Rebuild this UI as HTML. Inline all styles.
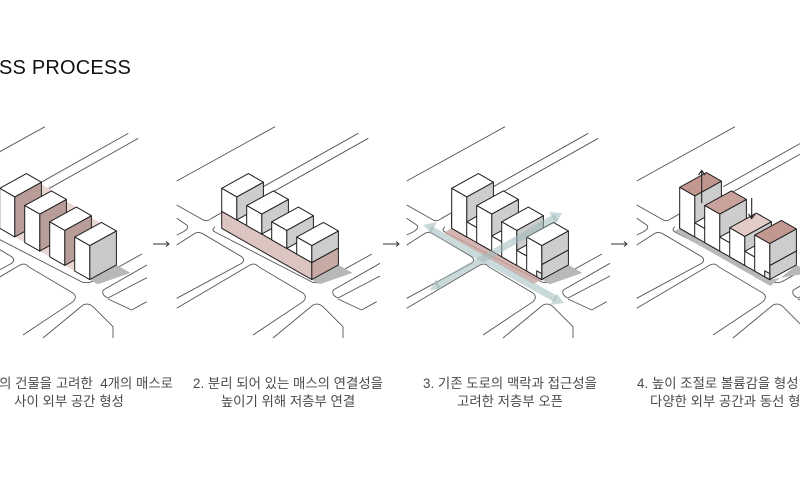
<!DOCTYPE html>
<html><head><meta charset="utf-8"><style>
html,body{margin:0;padding:0;background:#fff;}
#wrap{position:relative;width:800px;height:500px;overflow:hidden;background:#fff;font-family:"Liberation Sans","Noto Sans CJK KR",sans-serif;}
.t{position:absolute;white-space:nowrap;color:#4a4a4a;font-size:13.4px;font-family:"Liberation Sans","Noto Sans CJK KR",sans-serif;}
.c{width:300px;text-align:center;}
</style></head><body><div id="wrap">
<div style="position:absolute;left:-1px;top:57px;font-size:20px;color:#111;letter-spacing:0.2px;">SS PROCESS</div>
<svg id="s" width="800" height="500" style="position:absolute;left:0;top:0">
<defs>
<g id="roads" fill="none" stroke="#555" stroke-width="0.9">
<path d="M176.7,181 L275,126.7"/>
<path d="M263.3,186.7 L358.3,133.3"/>
<path d="M273.3,191.7 L368.3,138.3"/>
<path d="M176.7,205 L203.3,220 Q207,222 211.7,218.3 L222,212.5"/>
<path d="M176.7,218.3 L186.7,225 Q190,228 183,232 L176.7,235"/>
<path d="M215,226.7 Q211,230 215,232 L310,281 Q315,284 322,281.7 L372,254"/>
<path d="M176.7,245 L195,233.3 Q198,231.5 202,233.3 L241.7,256.7 Q245.5,260 241.7,263.3 L176.7,298.3"/>
<path d="M176.7,308.3 L250,265 Q255,262.5 258.5,266.7 L303.3,293.3 Q307.5,297 303,301.7 L253,335"/>
<path d="M273,338 L313,305 Q318,302.5 323,306.7 L343,326.7 L343,338"/>
<path d="M333.3,290 L380,263.3"/>
<path d="M380,276 L338,298 Q331,295 333.3,290"/>
<path d="M361.7,310 L376.7,301.7"/>
<path d="M338,299 L361.7,310"/>
</g>
<clipPath id="c1"><rect x="0" y="100" width="147" height="250"/></clipPath>
<clipPath id="c2"><rect x="176" y="100" width="205" height="250"/></clipPath>
<clipPath id="c3"><rect x="406" y="100" width="205" height="250"/></clipPath>
<clipPath id="c4"><rect x="636" y="100" width="170" height="250"/></clipPath>
</defs>
<g clip-path="url(#c1)"><use href="#roads" transform="translate(-230,0)"/></g>
<g clip-path="url(#c2)"><use href="#roads"/></g>
<g clip-path="url(#c3)"><use href="#roads" transform="translate(230,0)"/></g>
<g clip-path="url(#c4)"><use href="#roads" transform="translate(460,0)"/></g>
<g id="bld"></g>
<g stroke="#333" stroke-width="1" fill="none">
<path d="M153,244 L169,244 M166,241.5 L169,244 L166,246.5"/>
<path d="M383,244 L399,244 M396,241.5 L399,244 L396,246.5"/>
<path d="M611,244 L627,244 M624,241.5 L627,244 L624,246.5"/>
</g>
</svg>
<div class="t" style="right:627px;top:372px;">의 건물을 고려한&nbsp; 4개의 매스로</div>
<div class="t c" style="left:-81px;top:390px;">사이 외부 공간 형성</div>
<div class="t c" style="left:138px;top:372px;">2. 분리 되어 있는 매스의 연결성을</div>
<div class="t c" style="left:138px;top:390px;">높이기 위해 저층부 연결</div>
<div class="t c" style="left:360px;top:372px;">3. 기존 도로의 맥락과 접근성을</div>
<div class="t c" style="left:360px;top:390px;">고려한 저층부 오픈</div>
<div class="t" style="left:637px;top:372px;">4. 높이 조절로 볼륨감을 형성</div>
<div class="t" style="left:650px;top:390px;">다양한 외부 공간과 동선 형성</div>
</div>
<script>
(function(){
var out='';var S='#1e1e1e';
function P(dx,a,b,c){return [221.7+dx+a+b*26.7, 228.3+a*0.57-b*14.7-c];}
function poly(pts,fill,op){return '<polygon points="'+pts.map(function(p){return p[0].toFixed(1)+','+p[1].toFixed(1)}).join(' ')+'" fill="'+fill+'" stroke="'+(op&&op.ns?'none':S)+'" stroke-width="1" stroke-linejoin="round"'+(op&&op.o?' fill-opacity="'+op.o+'"':'')+'/>';}
function box(dx,a0,a1,b0,b1,c0,c1,f,r,t,cf){
 if(cf===undefined)cf=c0;
 out+=poly([P(dx,a1,b0,c0),P(dx,a1,b1,c0),P(dx,a1,b1,c1),P(dx,a1,b0,c1)],r);
 out+=poly([P(dx,a0,b0,c1),P(dx,a1,b0,c1),P(dx,a1,b1,c1),P(dx,a0,b1,c1)],t);
 out+=poly([P(dx,a0,b0,cf),P(dx,a1,b0,cf),P(dx,a1,b0,c1),P(dx,a0,b0,c1)],f);}
function shadow(dx){out+=poly([P(dx,90,0,0),P(dx,90,1,0),P(dx,104,1,0),P(dx,98,0,0)],'#b8b8b8',{ns:1});}
// panel 1
var dx=-222,h=[40,37,35,34];
shadow(dx);
for(var i=0;i<3;i++){out+=poly([P(dx,25*i+15,1,0),P(dx,25*i+25,1,0),P(dx,25*i+25,1,h[i]-2),P(dx,25*i+15,1,h[i]-2)],'#ead6d3',{ns:1});
 out+=poly([P(dx,25*i+15,0,0),P(dx,25*i+25,0,0),P(dx,25*i+25,1,0),P(dx,25*i+15,1,0)],'#ead6d3',{ns:1});}
for(i=0;i<4;i++)box(dx,25*i,25*i+15,0,1,0,h[i],'#fff',i<3?'#b89d98':'#c9c9c9','#fff');
// panel 2
dx=0;shadow(dx);
box(dx,0,90,0,1,0,17,'#dcc4c0','#c8aaa5','#fff');
for(i=0;i<4;i++)box(dx,25*i,25*i+15,0,1,17,h[i],'#fff','#cdcdcd','#fff');
// panel 3
dx=230;shadow(dx);
out+=poly([P(dx,0,0,0),P(dx,90,0,0),P(dx,90,-0.3,0),P(dx,0,-0.3,0)],'#c9a39e',{ns:1,o:0.8});
box(dx,0,90,0,1,0,15,'#fff','#cdcdcd','#fff');
for(i=0;i<4;i++)box(dx,25*i,25*i+15,0,1,15,h[i],'#fff','#cdcdcd','#fff',0);
out+=poly([P(dx,85,0,0),P(dx,90,0,0),P(dx,90,0,6),P(dx,85,0,6)],'#e6e6e6');
out+='<g stroke="#9fbaba" stroke-opacity="0.55" stroke-width="7" fill="none"><path d="M430,229 L556,299"/><path d="M436,286 L556,217"/></g>';
out+='<g fill="#9fbaba" fill-opacity="0.55"><polygon points="423,225 437,222 431,233"/><polygon points="564,303 550,305 557,294"/><polygon points="430,290 436,279 441,289"/><polygon points="562,213 549,212 556,224"/></g>';
// panel 4
dx=458;var h4=[41,37,29,36],tp=['#c29790','#c9a29c','#e3cbc7','#c29790'];
out+=poly([P(dx,0,0,0),P(dx,90,0,0),P(dx,104,1,0),P(dx,90,1,0),P(dx,96,-0.2,0),P(dx,0,-0.2,0)],'#b8b8b8',{ns:1});
box(dx,0,90,0,1,0,14,'#fff','#cdcdcd','#fff');
for(i=0;i<4;i++)box(dx,25*i,25*i+15,0,1,14,h4[i],'#fff','#cdcdcd',tp[i],0);
out+=poly([P(dx,85,0,0),P(dx,90,0,0),P(dx,90,0,6),P(dx,85,0,6)],'#e6e6e6');
out+='<g stroke="#222" stroke-width="1.1" fill="none"><path d="M701.7,203 L701.7,171 M698.5,175 L701.7,170.5 L705,175"/><path d="M751.7,198 L751.7,218 M748.5,214 L751.7,218.5 L755,214"/></g>';
document.getElementById('bld').innerHTML=out;
})();
</script>
</body></html>
